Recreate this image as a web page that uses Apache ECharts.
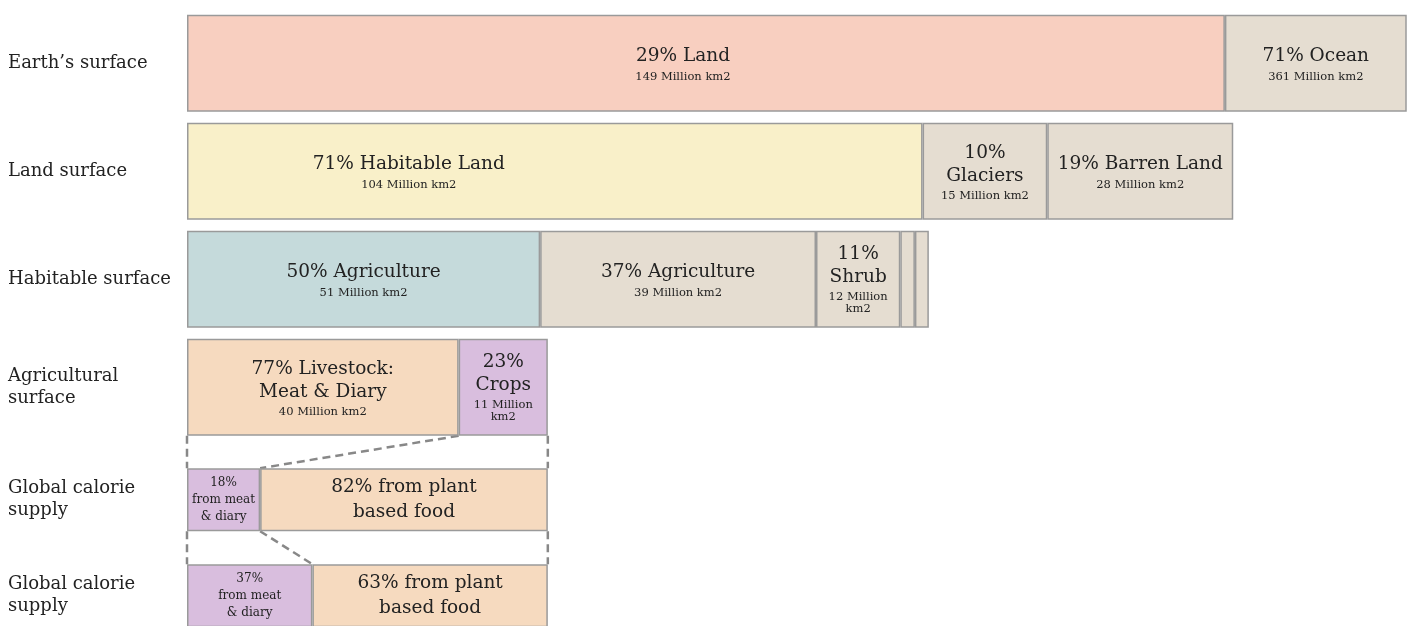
<html>
<head>
    <meta charset="utf-8">
    <title>Land use</title>
    <script src="https://cdn.jsdelivr.net/npm/echarts@6/dist/echarts.min.js"></script>
    <style>html,body{margin:0;padding:0;background:#fff;}</style>
</head>
<body>
<div id="main" style="width:1411px;height:626px;"></div>
<script type="text/javascript">
    // row names
    var topRows = ['Earth’s surface', 'Land surface', 'Habitable surface', 'Agricultural\nsurface'];
    var bottomRows = ['Global calorie\nsupply', 'Global calorie\nsupply'];

    // segment sizes (million km2, as drawn)
    var earthSeg = [149, 361];
    var landSeg = [105.6, 17.9, 26.7];
    var habitableSeg = [50.7, 39.6, 12.1, 2.1, 2.0];
    var agriSeg = [39.0, 12.8];
    var calorie1Seg = [10.5, 41.3];
    var calorie2Seg = [18.0, 33.8];

    // segment texts: [big lines, small lines]
    var earthText = [[['29% Land'], ['149 Million km2']], [['71% Ocean'], ['361 Million km2']]];
    var landText = [[['71% Habitable Land'], ['104 Million km2']], [['10%', 'Glaciers'], ['15 Million km2']], [['19% Barren Land'], ['28 Million km2']]];
    var habitableText = [[['50% Agriculture'], ['51 Million km2']], [['37% Agriculture'], ['39 Million km2']], [['11%', 'Shrub'], ['12 Million', 'km2']], [[], []], [[], []]];
    var agriText = [[['77% Livestock:', 'Meat & Diary'], ['40 Million km2']], [['23%', 'Crops'], ['11 Million', 'km2']]];
    var calorie1Text = [[[], ['18%', 'from meat', '& diary']], [['82% from plant', 'based food'], []]];
    var calorie2Text = [[[], ['37%', 'from meat', '& diary']], [['63% from plant', 'based food'], []]];

    // colours
    var earthCol = ['#f8cfc0', '#e5ddd1'];
    var landCol = ['#f9f0c9', '#e5ddd1', '#e5ddd1'];
    var habitableCol = ['#c5dadb', '#e5ddd1', '#e5ddd1', '#e5ddd1', '#e5ddd1'];
    var agriCol = ['#f6dabf', '#d9bede'];
    var calorieCol = ['#d9bede', '#f6dabf'];

    var FONT = 'DejaVu Serif';
    var TOP_BAR = 97, BOT_BAR = 63;

    function fmt(t, cal) {
        var parts = [];
        t[0].forEach(function (s) { parts.push((cal ? '{d|' : '{a|') + s + '}'); });
        t[1].forEach(function (s, i) {
            if (cal) parts.push('{s|' + s + '}');
            else parts.push((i === 0 && t[0].length ? '{b|' : '{c|') + s + '}');
        });
        return parts.join('\n');
    }

    var rich = {
        a: {fontFamily: FONT, fontSize: 18.5, lineHeight: 23, color: '#222'},
        d: {fontFamily: FONT, fontSize: 18.5, lineHeight: 25, color: '#222'},
        b: {fontFamily: FONT, fontSize: 11.5, lineHeight: 14, padding: [4, 0, 0, 0], color: '#222'},
        c: {fontFamily: FONT, fontSize: 11.5, lineHeight: 14, color: '#222'},
        s: {fontFamily: FONT, fontSize: 12, lineHeight: 17, color: '#222'}
    };

    function item(v, t, col, cal, offset) {
        return {
            value: v,
            itemStyle: {color: col},
            label: {show: true, position: 'inside', formatter: fmt(t, cal), rich: rich, offset: offset || [0, 0]}
        };
    }

    var topSegs = [earthSeg, landSeg, habitableSeg, agriSeg];
    var topTexts = [earthText, landText, habitableText, agriText];
    var topCols = [earthCol, landCol, habitableCol, agriCol];
    var botSegs = [calorie1Seg, calorie2Seg];
    var botTexts = [calorie1Text, calorie2Text];
    // label shifts seen in the original
    var labelShift = {'0-0': [-23, 0], '1-0': [-146, 0]};

    var series = [];
    for (var k = 0; k < 5; k++) {
        var data = topSegs.map(function (seg, r) {
            if (k >= seg.length) return '-';
            return item(seg[k], topTexts[r][k], topCols[r][k], false, labelShift[r + '-' + k]);
        });
        series.push({
            type: 'bar', stack: 'top', xAxisIndex: 0, yAxisIndex: 0, barWidth: TOP_BAR, clip: true,
            itemStyle: {borderColor: '#9a9a9a', borderWidth: 1.5}, data: data, silent: true
        });
    }
    for (var k2 = 0; k2 < 2; k2++) {
        series.push({
            type: 'bar', stack: 'bot', xAxisIndex: 1, yAxisIndex: 1, barWidth: BOT_BAR, clip: true,
            itemStyle: {borderColor: '#9a9a9a', borderWidth: 1.5}, silent: true,
            data: botSegs.map(function (seg, r) { return item(seg[k2], botTexts[r][k2], calorieCol[k2], true); })
        });
    }

    var XMAX = 175;
    var yLabel = {
        show: true, align: 'left', margin: 179, fontFamily: FONT, fontSize: 18, lineHeight: 22, color: '#222'
    };
    var chart = echarts.init(document.getElementById('main'));
    chart.setOption({
        animation: false,
        grid: [
            {left: 187, right: 5, top: 9.3, height: 432, outerBoundsMode: 'none', containLabel: false},
            {left: 187, right: 5, top: 451.7, height: 192, outerBoundsMode: 'none', containLabel: false}
        ],
        xAxis: [
            {type: 'value', gridIndex: 0, min: 0, max: XMAX, show: false},
            {type: 'value', gridIndex: 1, min: 0, max: XMAX, show: false}
        ],
        yAxis: [
            {type: 'category', gridIndex: 0, inverse: true, data: topRows,
                axisLine: {show: false}, axisTick: {show: false}, axisLabel: yLabel},
            {type: 'category', gridIndex: 1, inverse: true, data: ['c1', 'c2'],
                axisLine: {show: false}, axisTick: {show: false},
                axisLabel: Object.assign({}, yLabel, {formatter: function (v, i) { return bottomRows[i]; }})}
        ],
        series: series
    });

    // dashed connectors between agricultural and calorie rows
    function sum(a) { return a.reduce(function (s, v) { return s + v; }, 0); }
    function px(g, x, row) { return chart.convertToPixel({gridIndex: g}, [x, row]); }
    function seg(x1, y1, x2, y2) {
        return {type: 'line', shape: {x1: x1, y1: y1, x2: x2, y2: y2},
            style: {stroke: '#888', lineWidth: 2.5, lineDash: [8, 5]}, silent: true};
    }
    var g = [];
    var yA = px(0, 0, 3)[1] + TOP_BAR / 2;
    var yC1 = px(1, 0, 0)[1];
    var yC2 = px(1, 0, 1)[1];
    var x0 = px(0, 0, 3)[0];
    var xEnd = px(0, sum(agriSeg), 3)[0];
    g.push(seg(x0, yA, x0, yC1 - BOT_BAR / 2));
    g.push(seg(xEnd, yA, xEnd, yC1 - BOT_BAR / 2));
    g.push(seg(px(0, agriSeg[0], 3)[0], yA, px(1, calorie1Seg[0], 0)[0], yC1 - BOT_BAR / 2));
    g.push(seg(x0, yC1 + BOT_BAR / 2, x0, yC2 - BOT_BAR / 2));
    g.push(seg(xEnd, yC1 + BOT_BAR / 2, xEnd, yC2 - BOT_BAR / 2));
    g.push(seg(px(1, calorie1Seg[0], 0)[0], yC1 + BOT_BAR / 2, px(1, calorie2Seg[0], 1)[0], yC2 - BOT_BAR / 2));
    chart.setOption({graphic: g});
</script>
</body>
</html>
